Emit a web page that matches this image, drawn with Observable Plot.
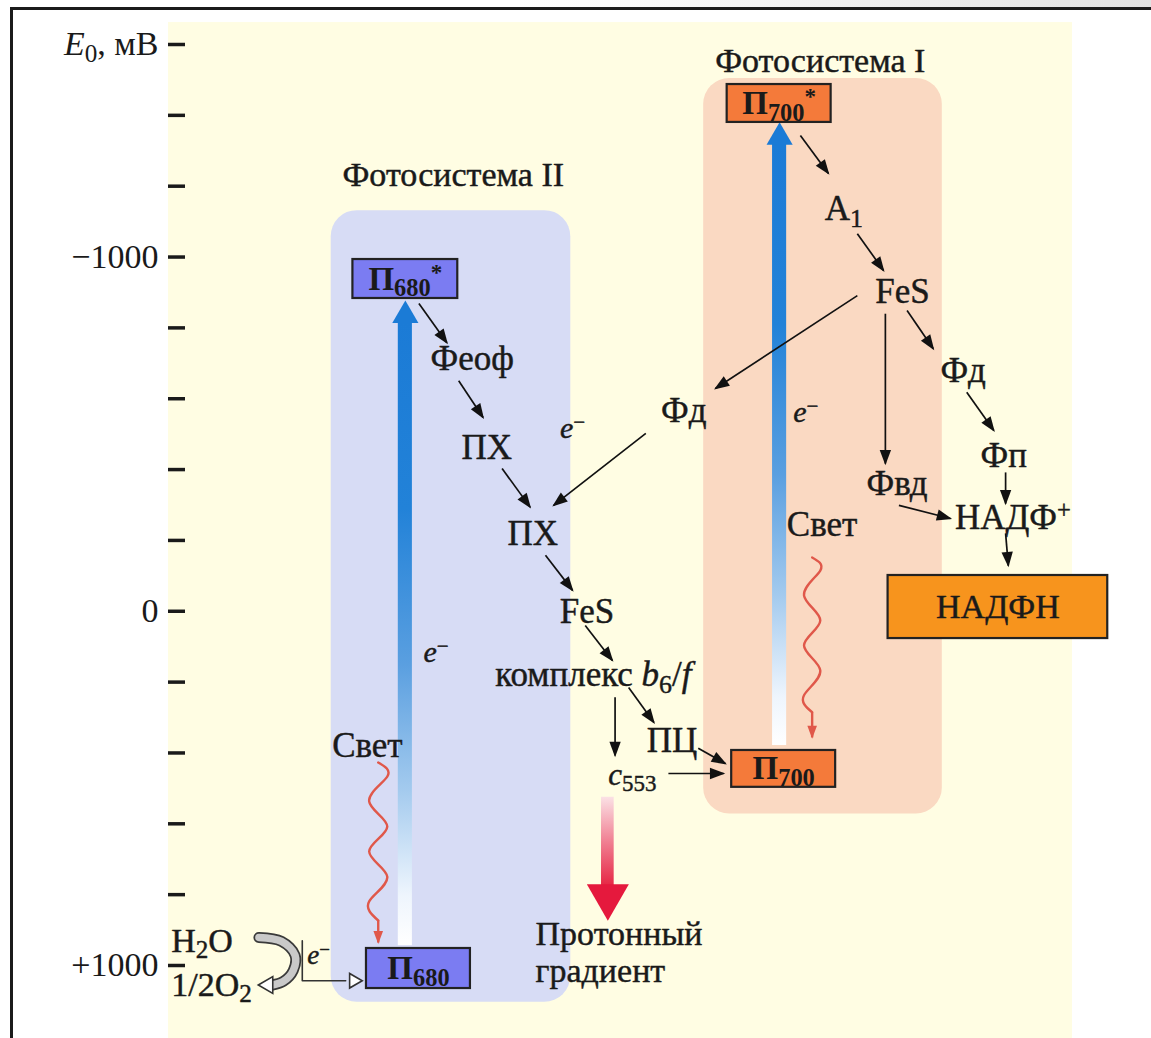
<!DOCTYPE html>
<html><head><meta charset="utf-8">
<script src="https://cdn.jsdelivr.net/npm/d3@7"></script>
<script src="https://cdn.jsdelivr.net/npm/@observablehq/plot@0.6"></script>
<style>
html,body{margin:0;padding:0;background:#fff;overflow:hidden;}
#wrap{position:relative;width:1151px;height:1038px;}
#topband{position:absolute;left:0;top:0;width:1151px;height:7px;background:linear-gradient(to right,#fff 0%,#fff 45%,#e2e2e2 100%);}
#frame{position:absolute;left:10px;top:7px;right:0;bottom:0;border-top:3px solid #1b1b1b;border-left:3px solid #1b1b1b;pointer-events:none;}
#wrap svg{position:absolute;left:0;top:0;}
</style></head><body>
<div id="wrap"><div id="topband"></div></div>
<script>
// ---------- DATA ----------
// Redox-potential axis (mV); x is a layout column 0..100
const tickValues = [-1600, -1400, -1200, -1000, -800, -600, -400, -200, 0, 200, 400, 600, 800, 1000];
const tickLabels = ["*{E}_{0}, мВ", "", "", "−1000", "", "", "", "", "0", "", "", "", "", "+1000"];

const background = [{x1: 0, x2: 100, y1: -1662, y2: 1206}];
const photosystems = [
  {id: "II", name: "Фотосистема II", x1: 18.0, x2: 44.5, y1: -1131, y2: 1104, lx: 31.5, ly: -1230},
  {id: "I", name: "Фотосистема I", x1: 59.2, x2: 85.6, y1: -1504, y2: 572, lx: 72.1, ly: -1553}
];
const pigments = [
  {id: "II", label: "П_{680}^{*}", x1: 20.4, x2: 32.0, y1: -993, y2: -883},
  {id: "II", label: "П_{680}", x1: 21.9, x2: 33.4, y1: 952, y2: 1065},
  {id: "I", label: "П_{700}^{*}", x1: 61.8, x2: 73.3, y1: -1487, y2: -1380},
  {id: "I", label: "П_{700}", x1: 62.3, x2: 73.8, y1: 393, y2: 497}
];
const product = [{label: "НАДФН", x1: 79.6, x2: 103.9, y1: -101, y2: 77}];

const carriers = [
  {label: "Феоф", x: 33.6, E: -714},
  {label: "ПХ", x: 35.2, E: -462},
  {label: "ПХ", x: 40.3, E: -220},
  {label: "FeS", x: 46.3, E: 1},
  {label: "комплекс *{b}_{6}/*{f}", x: 47.0, E: 178},
  {label: "ПЦ", x: 55.7, E: 365},
  {label: "Фд", x: 57.0, E: -567},
  {label: "A_{1}", x: 74.7, E: -1137},
  {label: "FeS", x: 81.2, E: -903},
  {label: "Фд", x: 87.9, E: -680},
  {label: "Фп", x: 92.4, E: -440},
  {label: "Фвд", x: 80.6, E: -361},
  {label: "НАДФ^{+}", x: 93.4, E: -265},
  {label: "Свет", x: 22.0, E: 379},
  {label: "Свет", x: 72.3, E: -245}
];
const cytochrome = [{label: "*{c}_{553}", x: 51.3, E: 463}];
const electrons = [{x: 44.7, E: -516}, {x: 29.6, E: 116}, {x: 70.5, E: -561}];
const waterLabels = [{label: "H_{2}O", x: 0.3, E: 930}, {label: "1/2O_{2}", x: 0.3, E: 1054}];
const waterElectron = [{x: 16.6, E: 972}];
const protonLabels = [{label: "Протонный", x: 40.6, E: 910}, {label: "градиент", x: 40.6, E: 1015}];

// electron transfers (from -> to)
const transfers = [
  {from: "П680*", to: "Феоф", x1: 27.7, E1: -869, x2: 30.8, E2: -758},
  {from: "Феоф", to: "ПХ", x1: 32.1, E1: -651, x2: 34.8, E2: -547},
  {from: "ПХ", to: "ПХ", x1: 36.9, E1: -403, x2: 40.0, E2: -294},
  {from: "Фд", to: "ПХ", x1: 52.8, E1: -502, x2: 42.6, E2: -299},
  {from: "ПХ", to: "FeS", x1: 41.7, E1: -158, x2: 44.7, E2: -59},
  {from: "FeS", to: "b6/f", x1: 46.1, E1: 40, x2: 49.1, E2: 139},
  {from: "b6/f", to: "c553", x1: 49.4, E1: 243, x2: 49.4, E2: 407},
  {from: "b6/f", to: "ПЦ", x1: 50.9, E1: 215, x2: 53.7, E2: 314},
  {from: "ПЦ", to: "П700", x1: 58.6, E1: 387, x2: 61.6, E2: 430},
  {from: "c553", to: "П700", x1: 55.3, E1: 458, x2: 61.4, E2: 458},
  {from: "П700*", to: "A1", x1: 69.9, E1: -1343, x2: 73.0, E2: -1236},
  {from: "A1", to: "FeS", x1: 76.2, E1: -1066, x2: 79.1, E2: -962},
  {from: "FeS", to: "Фд", x1: 76.2, E1: -891, x2: 60.5, E2: -629},
  {from: "FeS", to: "Фвд", x1: 79.3, E1: -840, x2: 79.3, E2: -417},
  {from: "FeS", to: "Фд", x1: 81.7, E1: -849, x2: 84.6, E2: -741},
  {from: "Фд", to: "Фп", x1: 88.3, E1: -618, x2: 91.3, E2: -510},
  {from: "Фп", to: "НАДФ+", x1: 92.6, E1: -392, x2: 92.6, E2: -304},
  {from: "Фвд", to: "НАДФ+", x1: 80.8, E1: -299, x2: 86.5, E2: -262},
  {from: "НАДФ+", to: "НАДФН", x1: 92.6, E1: -220, x2: 92.9, E2: -129}
];

// excitation (light) arrows: body from E1 up to E2, head centred at Eh
const excitation = [
  {system: "II", x: 26.2, E1: 944, E2: -818, Eh: -835},
  {system: "I", x: 67.6, E1: 379, E2: -1318, Eh: -1338}
];
// light quanta (wavy)
const lightWaves = [
  {wave: "II", x: 23.2, E: 427}, {wave: "II", x: 24.2, E: 467}, {wave: "II", x: 22.2, E: 537},
  {wave: "II", x: 24.2, E: 608}, {wave: "II", x: 22.2, E: 678}, {wave: "II", x: 24.2, E: 749},
  {wave: "II", x: 22.2, E: 819}, {wave: "II", x: 23.2, E: 873},
  {wave: "I", x: 71.2, E: -152}, {wave: "I", x: 72.1, E: -115}, {wave: "I", x: 70.3, E: -45},
  {wave: "I", x: 72.1, E: 26}, {wave: "I", x: 70.3, E: 96}, {wave: "I", x: 72.1, E: 167},
  {wave: "I", x: 70.3, E: 237}, {wave: "I", x: 71.2, E: 285}
];
const waveHeads = [
  {wave: "II", x1: 23.2, E1: 873, x2: 23.2, E2: 935},
  {wave: "I", x1: 71.2, E1: 285, x2: 71.2, E2: 356}
];
// proton gradient arrow
const protonArrow = [{x: 48.6, E1: 525, E2: 785, Eh: 805}];
// water oxidation
const waterTurn = [
  {x: 10.0, E: 921}, {x: 12.5, E: 932}, {x: 14.0, E: 971},
  {x: 13.8, E: 1014}, {x: 12.7, E: 1045}, {x: 11.5, E: 1055}
];
const waterHead = [{x: 11.0, E: 1055}];
const waterLine = [{x: 14.8, E: 930}, {x: 14.8, E: 1043}, {x: 19.6, E: 1043}];
const waterLineHead = [{x: 20.5, E: 1043}];

// ---------- CHART ----------
const FONT = "'Liberation Serif','Times New Roman','DejaVu Serif',serif";
const RED = "#e0584a";
const INK = "#1a1a1a";
const BLUEPH = "#010203", REDPH = "#030201";
const txt = {stroke: INK, strokeWidth: 0.45, fill: INK};

const plot = Plot.plot({
  width: 1151, height: 1038,
  marginLeft: 168, marginRight: 79, marginTop: 44, marginBottom: 73,
  x: {domain: [0, 100], axis: null},
  y: {domain: [-1600, 1000], reverse: true, axis: null},
  style: {fontFamily: FONT, background: "transparent", color: INK, overflow: "visible"},
  marks: [
    Plot.rect(background, {x1: "x1", x2: "x2", y1: "y1", y2: "y2", fill: "#fffde3"}),
    Plot.rect(photosystems.filter(d => d.id === "II"), {x1: "x1", x2: "x2", y1: "y1", y2: "y2", rx: 26, fill: "#d7dcf5"}),
    Plot.rect(photosystems.filter(d => d.id === "I"), {x1: "x1", x2: "x2", y1: "y1", y2: "y2", rx: 26, fill: "#fad9c2"}),
    Plot.text(photosystems, {x: "lx", y: "ly", text: "name", fontSize: 34, ...txt}),
    // excitation arrows
    Plot.rect(excitation, {x1: d => d.x - 0.78, x2: d => d.x + 0.78, y1: "E1", y2: "E2", fill: BLUEPH}),
    Plot.dot(excitation, {x: "x", y: "Eh", symbol: "triangle", r: 9.7, fill: "#1b7bd6", stroke: "none"}),
    // proton gradient
    Plot.rect(protonArrow, {x1: d => d.x - 0.7, x2: d => d.x + 0.7, y1: "E1", y2: "E2", fill: REDPH}),
    Plot.dot(protonArrow, {x: "x", y: "Eh", symbol: "triangle", r: 15.6, rotate: 180, fill: "#e5193d", stroke: "none"}),
    // light
    Plot.line(lightWaves, {x: "x", y: "E", z: "wave", curve: "natural", stroke: RED, strokeWidth: 2.4}),
    Plot.link(waveHeads, {x1: "x1", y1: "E1", x2: "x2", y2: "E2", stroke: RED, strokeWidth: 2.4, markerEnd: "arrow"}),
    // transfers
    Plot.link(transfers, {x1: "x1", y1: "E1", x2: "x2", y2: "E2", stroke: "#111", strokeWidth: 1.7, markerEnd: "arrow"}),
    // boxes
    Plot.rect(pigments.filter(d => d.id === "II"), {x1: "x1", x2: "x2", y1: "y1", y2: "y2", fill: "#7b7cf2", stroke: "#222", strokeWidth: 2.2}),
    Plot.rect(pigments.filter(d => d.id === "I"), {x1: "x1", x2: "x2", y1: "y1", y2: "y2", fill: "#f47a3a", stroke: "#222", strokeWidth: 2.2}),
    Plot.rect(product, {x1: "x1", x2: "x2", y1: "y1", y2: "y2", fill: "#f7941d", stroke: "#222", strokeWidth: 2.2}),
    Plot.text(pigments, {x: d => (d.x1 + d.x2) / 2, y: d => (d.y1 + d.y2) / 2, text: "label", fontSize: 33, fontWeight: "bold", fill: INK}),
    Plot.text(product, {x: d => (d.x1 + d.x2) / 2, y: d => (d.y1 + d.y2) / 2, text: "label", fontSize: 34, ...txt}),
    // labels
    Plot.text(carriers, {x: "x", y: "E", text: "label", fontSize: 35, ...txt}),
    Plot.text(cytochrome, {x: "x", y: "E", text: "label", fontSize: 31, ...txt}),
    Plot.text(electrons, {x: "x", y: "E", text: () => "*{e}^{−}", fontSize: 30, ...txt}),
    Plot.text(protonLabels, {x: "x", y: "E", text: "label", fontSize: 34, textAnchor: "start", ...txt}),
    // water
    Plot.line(waterTurn, {x: "x", y: "E", curve: "catmull-rom", stroke: "#3a3a3a", strokeWidth: 11}),
    Plot.line(waterTurn, {x: "x", y: "E", curve: "catmull-rom", stroke: "#c9c9c9", strokeWidth: 7.5}),
    Plot.dot(waterHead, {x: "x", y: "E", symbol: "triangle", r: 6.2, rotate: -90, fill: "#fff", stroke: "#333", strokeWidth: 1.6}),
    Plot.line(waterLine, {x: "x", y: "E", stroke: "#333", strokeWidth: 1.6}),
    Plot.dot(waterLineHead, {x: "x", y: "E", symbol: "triangle", r: 5.4, rotate: 90, fill: "#fff", stroke: "#333", strokeWidth: 1.6}),
    Plot.text(waterLabels, {x: "x", y: "E", text: "label", fontSize: 34, textAnchor: "start", ...txt}),
    Plot.text(waterElectron, {x: "x", y: "E", text: () => "*{e}^{−}", fontSize: 27, ...txt}),
    // axis
    Plot.axisY({ticks: tickValues, tickFormat: d => tickLabels[tickValues.indexOf(d)], tickSize: 17, tickPadding: 10, dx: 17, fontSize: 34, strokeWidth: 3.5, label: null})
  ]
});

document.getElementById("wrap").appendChild(plot);
const frame = document.createElement("div");
frame.id = "frame";
document.getElementById("wrap").appendChild(frame);

// gradients
const svg = d3.select(plot);
const defs = svg.insert("defs", ":first-child");
const bg = defs.append("linearGradient").attr("id", "blueGrad").attr("x1", 0).attr("y1", 1).attr("x2", 0).attr("y2", 0);
[[0, "#ffffff"], [0.08, "#eef5fd"], [0.25, "#a3caee"], [0.45, "#5a9fe0"], [0.7, "#2282d8"], [1, "#1b7bd6"]]
  .forEach(([o, c]) => bg.append("stop").attr("offset", o).attr("stop-color", c));
const rg = defs.append("linearGradient").attr("id", "redGrad").attr("x1", 0).attr("y1", 0).attr("x2", 0).attr("y2", 1);
[[0, "#fbe1e5"], [0.5, "#f07d90"], [1, "#e5213f"]]
  .forEach(([o, c]) => rg.append("stop").attr("offset", o).attr("stop-color", c));
plot.querySelectorAll(`[fill="${BLUEPH}"]`).forEach(e => e.setAttribute("fill", "url(#blueGrad)"));
plot.querySelectorAll(`[fill="${REDPH}"]`).forEach(e => e.setAttribute("fill", "url(#redGrad)"));

// filled arrowheads
plot.querySelectorAll("marker").forEach(m => {
  const color = m.getAttribute("stroke");
  const k = color === RED ? 0.6 : 1;
  m.setAttribute("overflow", "visible");
  m.setAttribute("fill", color);
  m.setAttribute("stroke", "none");
  const p = m.querySelector("path");
  p.setAttribute("d", `M${-12 * k},${-5 * k}L${1.5 * k},0L${-12 * k},${5 * k}Z`);
  p.setAttribute("fill", color);
  p.setAttribute("stroke", "none");
});

// rich text: _{sub} ^{sup} *{italic}
plot.querySelectorAll("text").forEach(t => {
  const s = t.textContent;
  if (!/[_^*]\{/.test(s)) return;
  const fs = parseFloat(getComputedStyle(t).fontSize) || 30;
  const re = /([_^*])\{([^}]*)\}/g;
  const parts = [];
  let last = 0, m;
  while ((m = re.exec(s))) {
    if (m.index > last) parts.push({type: "n", text: s.slice(last, m.index)});
    parts.push({type: m[1], text: m[2]});
    last = re.lastIndex;
  }
  if (last < s.length) parts.push({type: "n", text: s.slice(last)});
  t.textContent = "";
  let shift = 0;
  parts.forEach(p => {
    const ts = document.createElementNS("http://www.w3.org/2000/svg", "tspan");
    ts.textContent = p.text;
    let target = 0;
    if (p.type === "_") { target = 0.2 * fs; ts.setAttribute("font-size", 0.74 * fs); }
    else if (p.type === "^") { target = -0.3 * fs; ts.setAttribute("font-size", 0.7 * fs); }
    else if (p.type === "*") ts.setAttribute("font-style", "italic");
    if (target !== shift) { ts.setAttribute("dy", target - shift); shift = target; }
    t.appendChild(ts);
  });
});
</script>
</body></html>
